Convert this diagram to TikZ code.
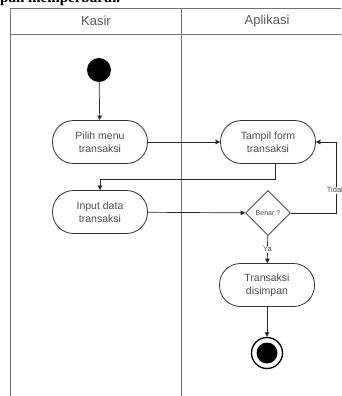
\documentclass[tikz,border=0pt]{standalone}
\usepackage{fontspec}
\setmainfont{Liberation Serif}
\setsansfont{Liberation Sans}
\usetikzlibrary{arrows.meta, positioning, shapes.geometric}

\begin{document}
\begin{tikzpicture}[
  x=1pt, y=-1pt,
  act/.style={
    rectangle, rounded corners=21pt, draw=black!80, fill=white,
    minimum width=95pt, minimum height=43pt, inner sep=2pt,
    align=center, text=black!70,
    font=\sffamily\fontsize{10.5}{13}\selectfont, line width=0.8pt
  },
  dec/.style={
    diamond, draw=black!80, fill=white, minimum size=45pt, inner sep=0pt,
    text=black!70, font=\sffamily\fontsize{7}{8}\selectfont, line width=0.8pt
  },
  lane/.style={draw=black!55, line width=0.8pt},
  head/.style={text=black!65, font=\sffamily\fontsize{13}{15}\selectfont},
  arr/.style={-{Triangle[length=4.5pt, width=4.5pt]}, draw=black!85, line width=0.7pt},
  lbl/.style={fill=white, inner sep=1pt, text=black!70,
    font=\sffamily\fontsize{7.5}{9}\selectfont}
]

% === Frame ===
\clip (0,0) rectangle (341,396);
\useasboundingbox (0,0) rectangle (341,396);
\fill[white] (0,0) rectangle (341,396);

% === Text above the figure ===
\node[anchor=base west, inner sep=0pt, font=\bfseries\fontsize{15}{17}\selectfont] (caption)
  at (0,3) {pan memperbarui.};

% === Swimlanes ===
\draw[lane] (10,396) -- (10,8) -- (352,8);
\draw[lane] (10,34) -- (352,34);
\draw[lane] (181,8) -- (181,396);
\node[head] (kasir) at (96,21) {Kasir};
\node[head] (aplikasi) at (267,21) {Aplikasi};

% === Kasir ===
\node[circle, fill=black, minimum size=24pt, inner sep=0pt] (start) at (99,70) {};
\node[act] (pilih) at (100,142) {Pilih menu\\transaksi};
\node[act] (input) at (100,212) {Input data\\transaksi};

% === Aplikasi ===
\node[act] (tampil) at (268,142) {Tampil form\\transaksi};
\node[dec] (cek) at (268,213) {Benar ?};
\node[act] (simpan) at (267,285) {Transaksi\\disimpan};
\node[circle, draw=black, line width=1.3pt, minimum size=31pt, inner sep=0pt] (stop)
  at (267,353) {};
\node[circle, fill=black, minimum size=21pt, inner sep=0pt] (stopdot) at (stop) {};

% === ARROWS ===
\draw[arr] (start) -- (pilih);
\draw[arr] (pilih) -- (tampil);
\draw[arr] ([xshift=7pt]tampil.south) -- ++(0,15) -| (input.north);
\draw[arr] (input) -- (cek);
\draw[arr] (cek.east) -- ++(45,0) |- node[lbl, pos=0.16] {Tidak} (tampil.east);
\draw[arr] (cek) -- node[lbl] {Ya} (simpan);
\draw[arr] (simpan) -- (stop);

\end{tikzpicture}
\end{document}
